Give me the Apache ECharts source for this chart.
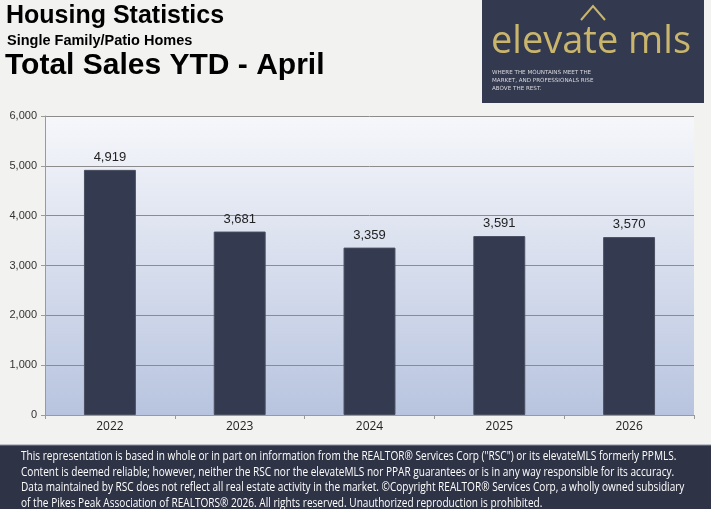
<!DOCTYPE html>
<html>
<head>
<meta charset="utf-8">
<script src="https://cdn.jsdelivr.net/npm/echarts@6/dist/echarts.min.js"></script>
<style>
  * { margin: 0; padding: 0; }
  body { background: #f2f2f0; }
  #chart { width: 711px; height: 509px; }
</style>
</head>
<body>
<div id="chart"></div>
<script>
// data
const years = ["2022", "2023", "2024", "2025", "2026"];
const totalSales = [4919, 3681, 3359, 3591, 3570];
const yTicks = [0, 1000, 2000, 3000, 4000, 5000, 6000];

const footerLines = [
  'This representation is based in whole or in part on information from the REALTOR\u00ae Services Corp ("RSC") or its elevateMLS formerly PPMLS.',
  "Content is deemed reliable; however, neither the RSC nor the elevateMLS nor PPAR guarantees or is in any way responsible for its accuracy.",
  "Data maintained by RSC does not reflect all real estate activity in the market. \u00a9Copyright REALTOR\u00ae Services Corp, a wholly owned subsidiary",
  "of the Pikes Peak Association of REALTORS\u00ae 2026. All rights reserved. Unauthorized reproduction is prohibited."
];

const chart = echarts.init(document.getElementById("chart"));

const fmt = (v) => v.toLocaleString("en-US");

const option = {
  backgroundColor: "#f2f2f0",
  animation: false,
  grid: {
    left: 45,
    right: 17,
    top: 116,
    bottom: 94,
    show: true,
    borderWidth: 0,
    backgroundColor: new echarts.graphic.LinearGradient(0, 0, 0, 1, [
      { offset: 0, color: "#f6f7fb" },
      { offset: 1, color: "#b8c4df" }
    ])
  },
  xAxis: {
    type: "category",
    data: years,
    axisLine: { show: true, lineStyle: { color: "#9a9a9a", width: 1 } },
    axisTick: { show: true, length: 4, lineStyle: { color: "#9a9a9a" } },
    axisLabel: {
      color: "#222",
      fontFamily: "Open Sans",
      fontSize: 12,
      margin: 6
    }
  },
  yAxis: {
    type: "value",
    min: yTicks[0],
    max: yTicks[yTicks.length - 1],
    interval: 1000,
    axisLine: { show: true, lineStyle: { color: "#9a9a9a", width: 1 } },
    axisTick: { show: true, length: 4, lineStyle: { color: "#9a9a9a" } },
    axisLabel: {
      color: "#333",
      fontFamily: "Liberation Sans",
      fontSize: 11,
      margin: 8,
      formatter: (v) => fmt(v)
    },
    splitLine: { show: true, lineStyle: { color: "#8c8c8c", width: 1 } }
  },
  series: [
    {
      type: "bar",
      data: totalSales,
      barWidth: "40%",
      itemStyle: {
        color: "#343a50",
        borderColor: "#4a4f60",
        borderWidth: 1
      },
      label: {
        show: true,
        position: "top",
        distance: 6,
        color: "#222",
        fontFamily: "Liberation Sans",
        fontSize: 13,
        formatter: (p) => fmt(p.value)
      }
    }
  ],
  graphic: [
    // titles
    {
      type: "text", left: 6, top: 4,
      style: { text: "Housing Statistics", font: "bold 25px 'Liberation Sans'", fill: "#000" }
    },
    {
      type: "text", left: 7, top: 33,
      style: { text: "Single Family/Patio Homes", font: "bold 14.5px 'Liberation Sans'", fill: "#000" }
    },
    {
      type: "text", left: 5, top: 51,
      style: { text: "Total Sales YTD - April", font: "bold 30px 'Liberation Sans'", fill: "#000" }
    },
    // logo block
    {
      type: "rect", shape: { x: 482, y: 0, width: 222, height: 103 },
      style: { fill: "#333a4f" }
    },
    {
      type: "polyline", shape: { points: [[581, 20], [593, 6], [605, 20]] },
      style: { stroke: "#c9b56c", lineWidth: 2, fill: null }
    },
    {
      type: "text", left: 491, top: 23,
      style: { text: "elevate mls", font: "38px 'Open Sans'", fill: "#c9b56c" }
    },
    {
      type: "text", left: 492, top: 69,
      style: {
        text: "WHERE THE MOUNTAINS MEET THE\nMARKET, AND PROFESSIONALS RISE\nABOVE THE REST.",
        font: "5.6px 'DejaVu Sans'", lineHeight: 8, fill: "#d8d8dc"
      }
    },
    // footer band
    {
      type: "rect", shape: { x: 0, y: 445, width: 711, height: 64 },
      style: { fill: "#2e3346" }
    },
    {
      type: "line", shape: { x1: 0, y1: 445, x2: 711, y2: 445 },
      style: { stroke: "#8b90a0", lineWidth: 1 }
    },
    {
      type: "text", x: 21, y: 449, scaleX: 0.84,
      style: {
        text: footerLines.join("\n"),
        font: "12px 'Open Sans'", lineHeight: 15.5, fill: "#ffffff"
      }
    }
  ]
};

chart.setOption(option);
</script>
</body>
</html>
